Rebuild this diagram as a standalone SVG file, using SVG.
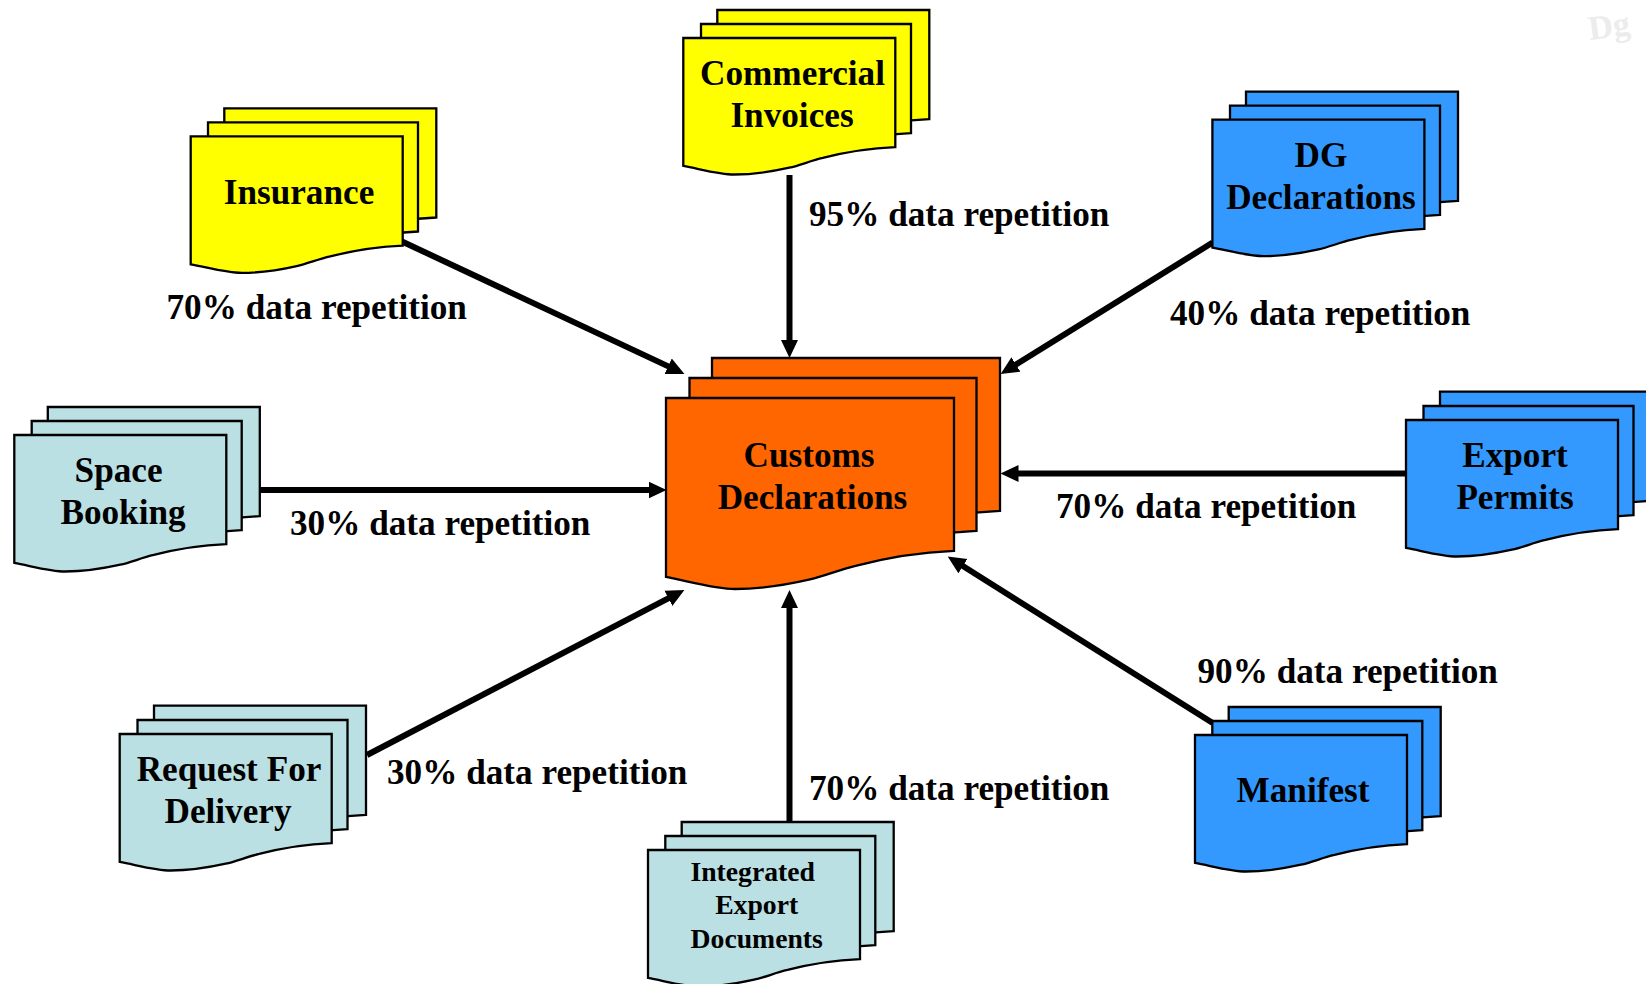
<svg xmlns="http://www.w3.org/2000/svg" width="1646" height="984" viewBox="0 0 1646 984">
<style>
.sheet{stroke:#000;stroke-width:2.3;vector-effect:non-scaling-stroke;stroke-linejoin:miter}
.yellow{fill:#ffff00}.blue{fill:#3399ff}.teal{fill:#bbe0e3}.orange{fill:#ff6600}
text{font-family:"Liberation Serif","Times New Roman",serif;font-weight:700;fill:#000}
.t{font-size:35.2px;text-anchor:middle}
.s{font-size:27.7px;text-anchor:middle}
.l{font-size:35.2px}
.c{fill:none;stroke:#000;stroke-width:6;marker-end:url(#head)}
</style>
<defs>
<marker id="head" markerUnits="userSpaceOnUse" markerWidth="18" markerHeight="18" refX="9" refY="9" orient="auto" viewBox="0 0 18 18">
<path d="M0 0.5L18 9L0 17.5Z" fill="#000"/>
</marker>
<path id="doc" class="sheet" d="M0 0H100V80C90 80.6 78 83 65.8 87.9C60 90 55 93.3 50 95C42 97.8 34 100 24 100C17 100 8 96 0 93.7Z"/>
</defs>
<rect width="1646" height="984" fill="#fff"/>
<text id="ghost" x="1590" y="40" transform="rotate(-8 1590 40)" style="font-size:34px;fill:#ececec">Dg</text>
<g id="connectors">
<line class="c" x1="402" y1="241.5" x2="676.3" y2="370.1"/>
<line class="c" x1="789.5" y1="175" x2="789.5" y2="349"/>
<line class="c" x1="1212.7" y1="242.5" x2="1008.3" y2="369.3"/>
<line class="c" x1="1406" y1="473.5" x2="1009.5" y2="473.5"/>
<line class="c" x1="260" y1="490" x2="657.5" y2="490"/>
<line class="c" x1="367" y1="755" x2="676.4" y2="594.2"/>
<line class="c" x1="789.5" y1="822" x2="789.5" y2="599"/>
<line class="c" x1="1212.7" y1="723" x2="955.3" y2="561.3"/>
</g>
<g id="customs" class="orange">
<use href="#doc" transform="translate(712 358) scale(2.88 1.91)"/>
<use href="#doc" transform="translate(689.5 378) scale(2.87 1.91)"/>
<use href="#doc" transform="translate(666 398) scale(2.88 1.91)"/>
<text class="t" x="809" y="467">Customs</text>
<text class="t" x="812.5" y="509">Declarations</text>
</g>
<g id="commercial" class="yellow">
<use href="#doc" transform="translate(717.3 10) scale(2.12 1.365)"/>
<use href="#doc" transform="translate(701 24) scale(2.1 1.365)"/>
<use href="#doc" transform="translate(683.3 38) scale(2.12 1.365)"/>
<text class="t" x="792.5" y="85">Commercial</text>
<text class="t" x="792" y="127">Invoices</text>
</g>
<g id="insurance" class="yellow">
<use href="#doc" transform="translate(224.3 108.3) scale(2.12 1.365)"/>
<use href="#doc" transform="translate(208 122.3) scale(2.1 1.365)"/>
<use href="#doc" transform="translate(190.7 136.4) scale(2.12 1.365)"/>
<text class="t" x="299" y="204">Insurance</text>
</g>
<g id="dg" class="blue">
<use href="#doc" transform="translate(1246 91.7) scale(2.12 1.365)"/>
<use href="#doc" transform="translate(1230 105.7) scale(2.1 1.365)"/>
<use href="#doc" transform="translate(1212.4 119.7) scale(2.12 1.365)"/>
<text class="t" x="1321" y="167">DG</text>
<text class="t" x="1321" y="209">Declarations</text>
</g>
<g id="export" class="blue">
<use href="#doc" transform="translate(1440 391.6) scale(2.12 1.365)"/>
<use href="#doc" transform="translate(1423.5 406) scale(2.1 1.365)"/>
<use href="#doc" transform="translate(1406 420) scale(2.12 1.365)"/>
<text class="t" x="1515" y="467">Export</text>
<text class="t" x="1515" y="509">Permits</text>
</g>
<g id="space" class="teal">
<use href="#doc" transform="translate(47.8 407) scale(2.12 1.365)"/>
<use href="#doc" transform="translate(31.7 421) scale(2.1 1.365)"/>
<use href="#doc" transform="translate(14.3 435) scale(2.12 1.365)"/>
<text class="t" x="118.6" y="482">Space</text>
<text class="t" x="123" y="524">Booking</text>
</g>
<g id="request" class="teal">
<use href="#doc" transform="translate(154 705.6) scale(2.12 1.365)"/>
<use href="#doc" transform="translate(137.5 720) scale(2.1 1.365)"/>
<use href="#doc" transform="translate(119.7 734) scale(2.12 1.365)"/>
<text class="t" x="229" y="781">Request For</text>
<text class="t" x="228" y="823">Delivery</text>
</g>
<g id="manifest" class="blue">
<use href="#doc" transform="translate(1228.7 707) scale(2.12 1.365)"/>
<use href="#doc" transform="translate(1212.3 721) scale(2.1 1.365)"/>
<use href="#doc" transform="translate(1195 735) scale(2.12 1.365)"/>
<text class="t" x="1303" y="802">Manifest</text>
</g>
<g id="integrated" class="teal">
<use href="#doc" transform="translate(681.7 822) scale(2.12 1.365)"/>
<use href="#doc" transform="translate(665.3 836) scale(2.1 1.365)"/>
<use href="#doc" transform="translate(648 850) scale(2.12 1.365)"/>
<text class="s" x="752.7" y="881">Integrated</text>
<text class="s" x="756.7" y="914">Export</text>
<text class="s" x="756.7" y="948">Documents</text>
</g>
<g id="labels">
<text class="l" x="166.5" y="319">70% data repetition</text>
<text class="l" x="809" y="226">95% data repetition</text>
<text class="l" x="1170" y="325">40% data repetition</text>
<text class="l" x="1056" y="518">70% data repetition</text>
<text class="l" x="290" y="535">30% data repetition</text>
<text class="l" x="387" y="784">30% data repetition</text>
<text class="l" x="809" y="800">70% data repetition</text>
<text class="l" x="1197.5" y="683">90% data repetition</text>
</g>
</svg>
